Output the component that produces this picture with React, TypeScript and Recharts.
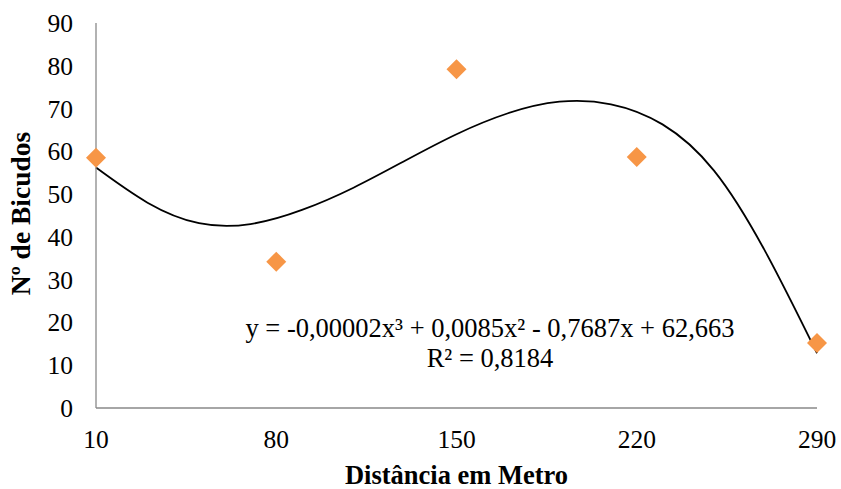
import { ComposedChart, Line, Scatter, XAxis, YAxis } from "recharts";

const distances = [10, 80, 150, 220, 290];
const bicudos = [58.5, 34.2, 79.2, 58.7, 15.2];

// trend curve
const trendX = [10, 30, 50, 70, 90, 110, 130, 150, 170, 190, 210, 230, 250, 270, 290];
const trendY = [56.2, 48.0, 43.2, 43.0, 46.3, 51.5, 57.8, 64.0, 68.9, 71.6, 71.0, 66.3, 55.5, 36.5, 12.8];

const yTicks = [0, 10, 20, 30, 40, 50, 60, 70, 80, 90];
const equation = "y = -0,00002x³ + 0,0085x² - 0,7687x + 62,663";
const rSquared = "R² = 0,8184";

const points = distances.map((x, i) => ({ x, y: bicudos[i] }));
const trend = trendX.map((x, i) => ({ x, y: trendY[i] }));

const font = '"Liberation Serif", "Times New Roman", serif';
const axisColor = "#898989";

const Diamond = (props: any) => {
  const { cx, cy } = props;
  const r = 10;
  return <polygon points={`${cx},${cy - r} ${cx + r},${cy} ${cx},${cy + r} ${cx - r},${cy}`} fill="#F79646" />;
};

const App = () => {
  return (
    <div style={{ position: "absolute", left: 0, top: 0, width: 841, height: 489, background: "#fff", fontFamily: font }}>
      <ComposedChart width={841} height={489} margin={{ top: 23, right: 24, bottom: 0, left: 0 }}>
        <XAxis
          type="number"
          dataKey="x"
          domain={[10, 290]}
          ticks={distances}
          height={81}
          tickLine={false}
          tickSize={0}
          tickMargin={22}
          stroke={axisColor}
          strokeWidth={1.3}
          tick={{ fontSize: 25.5, fill: "#000", fontFamily: font }}
          label={{ value: "Distância em Metro", position: "insideBottom", offset: 0, dy: -5, style: { fontSize: 26.5, fontWeight: "bold", fill: "#000", fontFamily: font } }}
        />
        <YAxis
          type="number"
          dataKey="y"
          domain={[0, 90]}
          ticks={yTicks}
          width={96}
          tickLine={false}
          tickSize={0}
          tickMargin={23}
          stroke={axisColor}
          strokeWidth={1.3}
          tick={{ fontSize: 25.5, fill: "#000", fontFamily: font }}
          label={{ value: "Nº de Bicudos", angle: -90, position: "insideLeft", offset: 0, dx: 20, dy: -2, style: { fontSize: 27.5, fontWeight: "bold", fill: "#000", fontFamily: font, textAnchor: "middle" } }}
        />
        <Line data={trend} dataKey="y" type="natural" stroke="#000" strokeWidth={1.8} dot={false} isAnimationActive={false} />
        <Scatter data={points} dataKey="y" shape={<Diamond />} isAnimationActive={false} />
      </ComposedChart>
      <svg width={841} height={489} style={{ position: "absolute", left: 0, top: 0, pointerEvents: "none" }}>
        <text x={490} y={337} textAnchor="middle" fontSize={26.5} fontFamily={font} fill="#000">{equation}</text>
        <text x={490} y={367} textAnchor="middle" fontSize={26.5} fontFamily={font} fill="#000">{rSquared}</text>
      </svg>
    </div>
  );
};

export default App;
